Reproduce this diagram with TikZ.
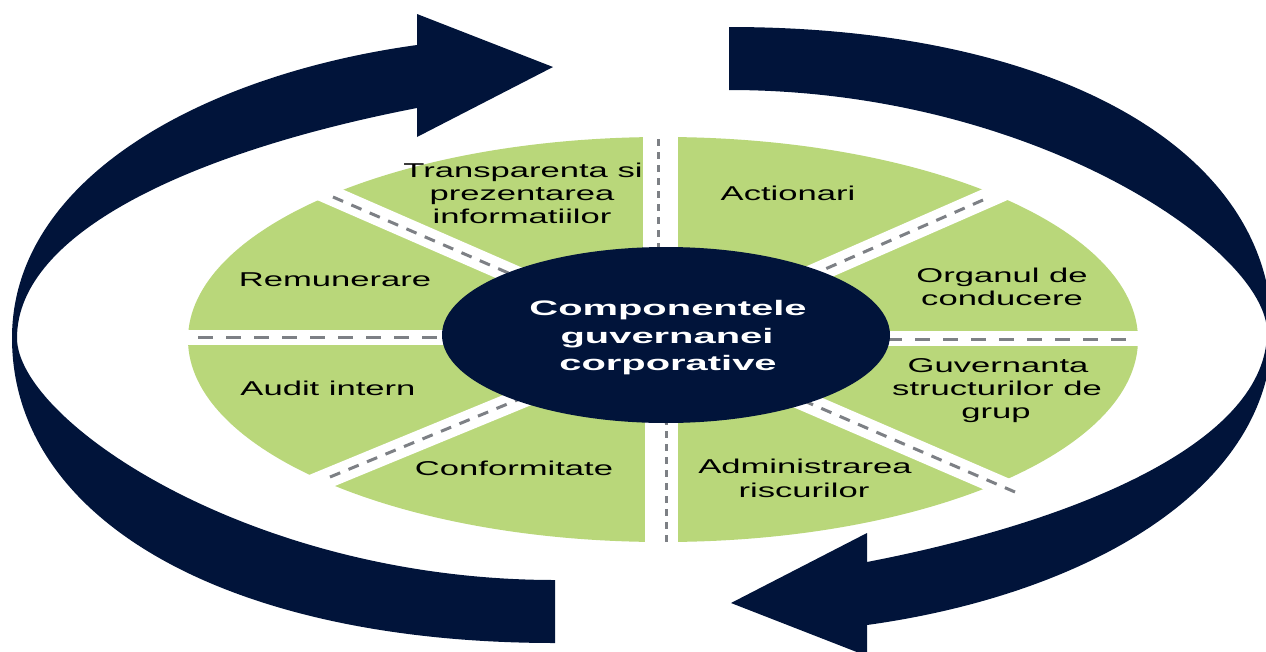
\documentclass[tikz,border=0pt]{standalone}
\usepackage{fontspec}
\setmainfont{Liberation Sans}
\usepackage{graphicx}
\usetikzlibrary{shapes.geometric}
\definecolor{navy}{RGB}{1,20,58}
\definecolor{leaf}{RGB}{185,215,122}
\definecolor{dashgrey}{RGB}{125,128,133}
\newcommand{\sx}[1]{\scalebox{1.73}[1]{#1}}
\newcommand{\sxc}[1]{\scalebox{1.9}[1]{#1}}
\begin{document}
\begin{tikzpicture}[x=1pt,y=-1pt,
  lbl/.style={anchor=base, inner sep=0pt, font=\fontsize{20}{23}\selectfont, text=black},
  ctr/.style={anchor=base, inner sep=0pt, font=\fontsize{21}{27}\selectfont\bfseries, text=white},
  gapdiag/.style={white, line width=20pt, line cap=butt},
  dashdiag/.style={dashgrey, line width=3pt, dash pattern=on 11pt off 9pt},
  dashhor/.style={dashgrey, line width=3pt, dash pattern=on 15pt off 13pt},
  dashver/.style={dashgrey, line width=3pt, dash pattern=on 7pt off 6pt},
  arrowshape/.style={fill=navy, draw=none}]
\clip (0,0) rectangle (1266,651);
\useasboundingbox (0,0) rectangle (1266,651);

% green ring
\node[ellipse, fill=leaf, draw=none, minimum width=950pt, minimum height=405pt, inner sep=0pt] (ring) at (663,339.5) {};

% divider coordinates
\coordinate (o) at (663,340);
\coordinate (ulw) at (314.5,188);
\coordinate (uld) at (333,197);
\coordinate (urw) at (1011,187.6);
\coordinate (urd) at (983,200);
\coordinate (llw) at (311.5,484.8);
\coordinate (lld) at (330,477);
\coordinate (lrw) at (1015,492);
\coordinate (lrd) at (1015,492);

% white gaps
\draw[gapdiag] (o) -- (ulw);
\draw[gapdiag] (o) -- (urw);
\draw[gapdiag] (o) -- (llw);
\draw[gapdiag] (o) -- (lrw);
\fill[white] (643,128) rectangle (678,340);
\fill[white] (645,340) rectangle (678,552);
\fill[white] (180,330) rectangle (663,345);
\fill[white] (663,331) rectangle (1146,346);

% dashed lines
\draw[dashdiag] (uld) -- (o);
\draw[dashdiag] (urd) -- (o);
\draw[dashdiag] (lld) -- (o);
\draw[dashdiag] (lrd) -- (o);
\coordinate (vt1) at (658,139);
\coordinate (vt2) at (658,340);
\coordinate (vb1) at (666,340);
\coordinate (vb2) at (666,542);
\coordinate (hl1) at (198,337);
\coordinate (hl2) at (663,337);
\coordinate (hr1) at (663,339);
\coordinate (hr2) at (1135,339);
\draw[dashver] (vt1) -- (vt2);
\draw[dashver] (vb1) -- (vb2);
\draw[dashhor] (hl1) -- (hl2);
\draw[dashhor] (hr1) -- (hr2);

% centre
\node[ellipse, fill=navy, draw=none, minimum width=448pt, minimum height=176pt, inner sep=0pt] (core) at (666,335) {};
\node[ctr] (c1) at (668,315) {\sxc{Componentele}};
\node[ctr] (c2) at (667,343) {\sxc{guvernanei}};
\node[ctr] (c3) at (668,370) {\sxc{corporative}};

% labels
\node[lbl] (t1) at (523,177) {\sx{Transparenta si}};
\node[lbl] (t2) at (522,200) {\sx{prezentarea}};
\node[lbl] (t3) at (522,223) {\sx{informatiilor}};
\node[lbl] (rem) at (335,286) {\sx{Remunerare}};
\node[lbl] (act) at (788,200) {\sx{Actionari}};
\node[lbl] (org1) at (1002,282) {\sx{Organul de}};
\node[lbl] (org2) at (1002,305) {\sx{conducere}};
\node[lbl] (aud) at (328,395) {\sx{Audit intern}};
\node[lbl] (conf) at (514,475) {\sx{Conformitate}};
\node[lbl] (guv1) at (998,372) {\sx{Guvernanta}};
\node[lbl] (guv2) at (997,395) {\sx{structurilor de}};
\node[lbl] (guv3) at (996,418) {\sx{grup}};
\node[lbl] (adm1) at (805,473) {\sx{Administrarea}};
\node[lbl] (adm2) at (804,497) {\sx{riscurilor}};

% circular arrows
\fill[arrowshape] (555,643) .. controls (229,643) and (12,521) .. (12,338)
  .. controls (12,180) and (200,75) .. (417,45)
  -- (417,14) -- (553,67) -- (417,137) -- (417,108)
  .. controls (200,150) and (17,230) .. (17,338)
  .. controls (17,420) and (250,580) .. (555,580) -- cycle;
\fill[arrowshape, rotate around={180:(642,335)}] (555,643) .. controls (229,643) and (12,521) .. (12,338)
  .. controls (12,180) and (200,75) .. (417,45)
  -- (417,14) -- (553,67) -- (417,137) -- (417,108)
  .. controls (200,150) and (17,230) .. (17,338)
  .. controls (17,420) and (250,580) .. (555,580) -- cycle;
\end{tikzpicture}
\end{document}
